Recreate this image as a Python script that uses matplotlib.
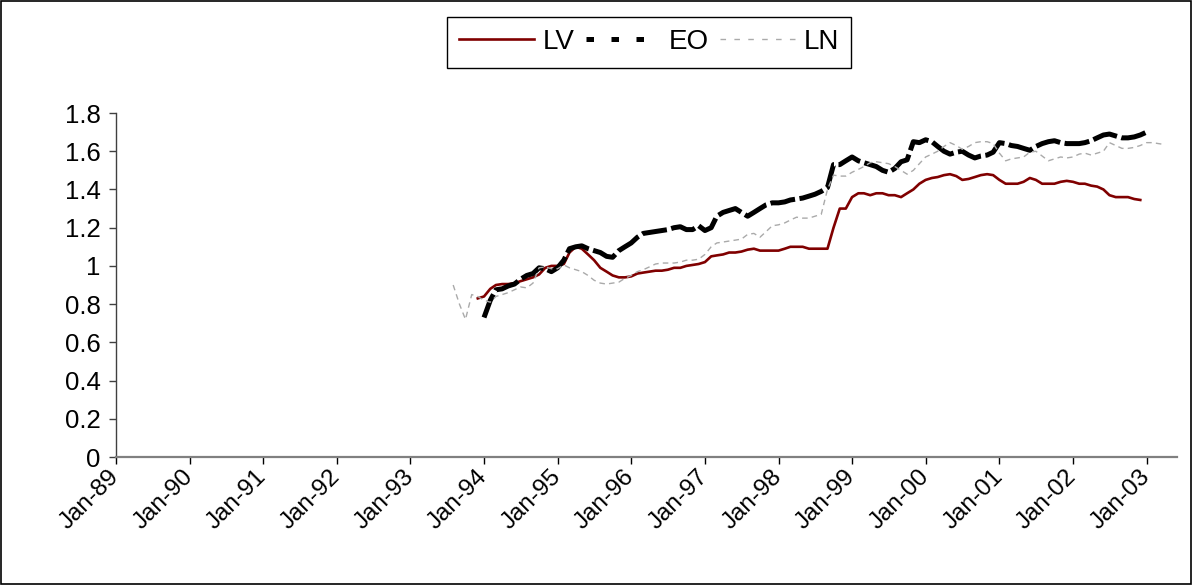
import numpy as np
import pandas as pd
import matplotlib
matplotlib.use('Agg')
import matplotlib.pyplot as plt
import matplotlib.dates as mdates
from matplotlib.lines import Line2D
from matplotlib.patches import Rectangle
from matplotlib.ticker import FuncFormatter

plt.rcParams['font.family'] = ['Liberation Sans', 'DejaVu Sans']

# monthly series, first month of each
lv_start = '1993-12-01'
lv = [0.83, 0.84, 0.88, 0.90, 0.905, 0.905, 0.91, 0.92, 0.93, 0.94, 0.955, 0.99,
      1.00, 1.00, 1.01, 1.07, 1.10, 1.09, 1.06, 1.03, 0.99, 0.97, 0.95, 0.94,
      0.94, 0.945, 0.96, 0.965, 0.97, 0.975, 0.975, 0.98, 0.99, 0.99, 1.00, 1.005,
      1.01, 1.02, 1.05, 1.055, 1.06, 1.07, 1.07, 1.075, 1.085, 1.09, 1.08, 1.08,
      1.08, 1.08, 1.09, 1.10, 1.10, 1.10, 1.09, 1.09, 1.09, 1.09, 1.20, 1.30,
      1.30, 1.36, 1.38, 1.38, 1.37, 1.38, 1.38, 1.37, 1.37, 1.36, 1.38, 1.40,
      1.43, 1.45, 1.46, 1.465, 1.475, 1.48, 1.47, 1.45, 1.455, 1.465, 1.475, 1.48,
      1.475, 1.45, 1.43, 1.43, 1.43, 1.44, 1.46, 1.45, 1.43, 1.43, 1.43, 1.44,
      1.445, 1.44, 1.43, 1.43, 1.42, 1.415, 1.40, 1.37, 1.36, 1.36, 1.36, 1.35,
      1.345]

eo_start = '1994-01-01'
eo = [0.73, 0.82, 0.875, 0.88, 0.895, 0.905, 0.93, 0.95, 0.96, 0.99, 0.985, 0.97,
      0.99, 1.03, 1.09, 1.10, 1.105, 1.09, 1.08, 1.07, 1.05, 1.045, 1.08, 1.10,
      1.12, 1.15, 1.17, 1.175, 1.18, 1.185, 1.19, 1.20, 1.205, 1.19, 1.19, 1.21,
      1.185, 1.20, 1.26, 1.28, 1.29, 1.30, 1.28, 1.26, 1.28, 1.30, 1.32, 1.33,
      1.33, 1.335, 1.345, 1.35, 1.355, 1.365, 1.375, 1.39, 1.41, 1.53, 1.53, 1.55,
      1.57, 1.55, 1.54, 1.53, 1.52, 1.50, 1.49, 1.51, 1.545, 1.555, 1.65, 1.645,
      1.66, 1.65, 1.625, 1.60, 1.585, 1.595, 1.60, 1.58, 1.565, 1.575, 1.58, 1.595,
      1.645, 1.64, 1.63, 1.625, 1.615, 1.605, 1.625, 1.64, 1.65, 1.655, 1.645, 1.64,
      1.64, 1.64, 1.645, 1.655, 1.67, 1.685, 1.69, 1.68, 1.67, 1.67, 1.675, 1.685,
      1.70]

ln_start = '1993-08-01'
ln = [0.90, 0.80, 0.72, 0.85, 0.84, 0.82, 0.81, 0.84, 0.85, 0.86, 0.875, 0.89,
      0.885, 0.91, 0.99, 0.995, 0.985, 0.985, 1.005, 0.99, 0.98, 0.97, 0.95, 0.925,
      0.91, 0.905, 0.91, 0.915, 0.935, 0.95, 0.97, 0.98, 0.995, 1.01, 1.015, 1.015,
      1.015, 1.02, 1.03, 1.03, 1.035, 1.06, 1.10, 1.12, 1.125, 1.13, 1.135, 1.14,
      1.165, 1.17, 1.15, 1.18, 1.21, 1.215, 1.225, 1.24, 1.255, 1.25, 1.25, 1.26,
      1.27, 1.40, 1.475, 1.47, 1.47, 1.49, 1.505, 1.52, 1.54, 1.545, 1.54, 1.535,
      1.52, 1.50, 1.48, 1.50, 1.535, 1.57, 1.585, 1.60, 1.625, 1.645, 1.63, 1.61,
      1.625, 1.645, 1.65, 1.65, 1.64, 1.59, 1.55, 1.56, 1.565, 1.57, 1.595, 1.60,
      1.575, 1.55, 1.56, 1.57, 1.565, 1.57, 1.585, 1.59, 1.58, 1.59, 1.60, 1.645,
      1.63, 1.615, 1.615, 1.62, 1.63, 1.645, 1.645, 1.64, 1.635]

def months(start, values):
    return pd.date_range(start, periods=len(values), freq='MS')

fig = plt.figure(figsize=(11.92, 5.85), dpi=100)
ax = fig.add_axes([0.0973, 0.2188, 0.8901, 0.588])

ax.plot(months(lv_start, lv), lv, color='#800000', lw=1.9, label='LV')
ax.plot(months(eo_start, eo), eo, color='black', lw=3.6,
        linestyle=(0, (5, 0.9)), label='EO')
ax.plot(months(ln_start, ln), ln, color='#aaaaaa', lw=1.0,
        linestyle=(0, (4, 3)), label='LN')

ax.set_xlim(pd.Timestamp('1989-01-01'), pd.Timestamp('2003-06-01'))
ax.set_ylim(0, 1.8)
ax.set_yticks(np.arange(0, 1.81, 0.2))
ax.yaxis.set_major_formatter(FuncFormatter(lambda v, p: '%g' % round(v, 1)))
ax.xaxis.set_major_locator(mdates.YearLocator())
ax.xaxis.set_major_formatter(mdates.DateFormatter('%b-%y'))

for s in ['top', 'right']:
    ax.spines[s].set_visible(False)
ax.spines['bottom'].set_color('#808080')
ax.spines['bottom'].set_linewidth(1.6)
ax.spines['left'].set_color('#404040')
ax.spines['left'].set_linewidth(1.0)
ax.tick_params(axis='x', direction='out', length=5, width=1, color='black',
               labelsize=17.5, pad=7)
ax.tick_params(axis='y', direction='out', length=5, width=1, color='#404040',
               labelsize=18.5, pad=6)
for lab in ax.get_xticklabels():
    lab.set_rotation(45)
    lab.set_ha('right')
    lab.set_va('center')
    lab.set_rotation_mode('anchor')

handles = [
    Line2D([], [], color='#800000', lw=1.9),
    Line2D([], [], color='black', lw=3.6, linestyle=(0, (1.5, 3.5))),
    Line2D([], [], color='#aaaaaa', lw=1.0, linestyle=(0, (4, 6))),
]
leg = fig.legend(handles, ['LV', 'EO', 'LN'], loc='center',
                 bbox_to_anchor=(649 / 1192, 1 - 42 / 585), ncol=3,
                 fontsize=20, frameon=True, fancybox=False, framealpha=1,
                 edgecolor='black', handlelength=2.7, handletextpad=0.3,
                 columnspacing=0.4, borderpad=0.45)
leg.get_frame().set_linewidth(1.0)

fig.patches.append(Rectangle((0.0005, 0.001), 0.999, 0.998, transform=fig.transFigure,
                             fill=False, edgecolor='black', lw=1.2))

plt.savefig('out.png', dpi=100)
